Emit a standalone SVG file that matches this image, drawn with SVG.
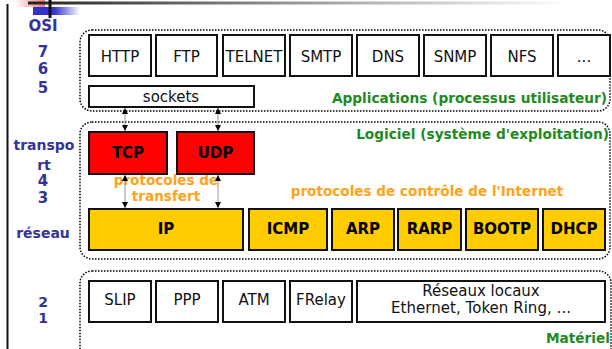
<svg xmlns="http://www.w3.org/2000/svg" width="612" height="349" viewBox="0 0 612 349">
<defs>
<linearGradient id="gTop" x1="0" y1="0" x2="1" y2="0"><stop offset="0" stop-color="#222"/><stop offset="0.5" stop-color="#999"/><stop offset="1" stop-color="#fff"/></linearGradient>
<linearGradient id="gBlue" x1="0" y1="0" x2="1" y2="0"><stop offset="0" stop-color="#3333cc"/><stop offset="0.45" stop-color="#3333cc"/><stop offset="1" stop-color="#fff"/></linearGradient>
<linearGradient id="gPink" x1="0" y1="0" x2="1" y2="0"><stop offset="0" stop-color="#fff"/><stop offset="0.6" stop-color="#f8b0b0"/><stop offset="1" stop-color="#f77"/></linearGradient>
<marker id="ah" viewBox="0 0 6 6" refX="6" refY="3" markerWidth="6" markerHeight="6" markerUnits="userSpaceOnUse" orient="auto-start-reverse"><path d="M0,0 L6,3 L0,6 z" fill="#000"/></marker>
</defs>
<style>
.zone{fill:none;stroke:#000;stroke-width:1.5;stroke-dasharray:1.5 1.5}
.box{fill:#fff;stroke:#111;stroke-width:2}
.red{fill:#ff0000;stroke:#111;stroke-width:2}
.gold{fill:#ffcc00;stroke:#111;stroke-width:2}
.t{font-family:"DejaVu Sans",Verdana,sans-serif;font-size:15px;fill:#111;text-anchor:middle}
.b{font-family:"DejaVu Sans",Verdana,sans-serif;font-size:15px;font-weight:bold;fill:#000;text-anchor:middle}
.osi{font-family:"DejaVu Sans",Verdana,sans-serif;font-size:14px;font-weight:bold;fill:#333399;text-anchor:middle}
.dig{font-size:15px}
.grn{font-family:"DejaVu Sans",Verdana,sans-serif;font-size:13.7px;font-weight:bold;fill:#1f8a1f;text-anchor:end}
.org{font-family:"DejaVu Sans",Verdana,sans-serif;font-size:13.6px;font-weight:bold;fill:#ffa31a;text-anchor:middle}
.con{stroke:#999;stroke-width:1;fill:none;marker-start:url(#ah);marker-end:url(#ah)}
</style>
<g id="decor">
<rect x="15" y="0" width="30" height="7" fill="url(#gPink)"/>
<rect x="33" y="7" width="47" height="8" fill="url(#gBlue)"/>
<rect x="28" y="1.5" width="540" height="3" fill="url(#gTop)"/>
<rect x="48.5" y="0" width="3" height="18" fill="#111"/>
<rect x="6.5" y="4" width="2" height="345" fill="#111"/>
</g>
<g id="osi-labels">
<text class="osi dig" x="43" y="30.5">OSI</text>
<text class="osi dig" x="43" y="57">7</text>
<text class="osi dig" x="43" y="74">6</text>
<text class="osi dig" x="43" y="93">5</text>
<text class="osi" x="44" y="150">transpo</text>
<text class="osi" x="44" y="170">rt</text>
<text class="osi dig" x="43" y="186">4</text>
<text class="osi dig" x="43" y="203">3</text>
<text class="osi" x="43" y="238">réseau</text>
<text class="osi" x="43" y="306.5" font-size="13.5">2</text>
<text class="osi" x="43" y="322.5" font-size="13.5">1</text>
</g>
<g id="zones">
<rect class="zone" x="80" y="30" width="530" height="81" rx="12"/>
<rect class="zone" x="80" y="122" width="530" height="137" rx="12"/>
<rect class="zone" x="80" y="271" width="531" height="95" rx="12"/>
<text class="grn" x="607" y="103">Applications (processus utilisateur)</text>
<text class="grn" x="609" y="139">Logiciel (système d'exploitation)</text>
<text class="grn" x="610" y="343">Matériel</text>
<text class="org" x="427" y="196">protocoles de contrôle de l'Internet</text>
<text class="org" x="166" y="185">protocoles de</text>
<text class="org" x="166" y="201">transfert</text>
</g>
<g id="connectors">
<line class="con" x1="125" y1="108" x2="125" y2="131"/>
<line class="con" x1="218" y1="108" x2="218" y2="131"/>
<line class="con" x1="125" y1="175" x2="125" y2="208"/>
<line class="con" x1="218" y1="175" x2="218" y2="208"/>
</g>
<g id="http"><rect class="box" x="89" y="35" width="62" height="41"/><text class="t" x="120" y="61.5">HTTP</text></g>
<g id="ftp"><rect class="box" x="156" y="35" width="61" height="41"/><text class="t" x="186.5" y="61.5">FTP</text></g>
<g id="telnet"><rect class="box" x="223" y="35" width="62" height="41"/><text class="t" x="254" y="61.5">TELNET</text></g>
<g id="smtp"><rect class="box" x="290" y="35" width="62" height="41"/><text class="t" x="321" y="61.5">SMTP</text></g>
<g id="dns"><rect class="box" x="357" y="35" width="62" height="41"/><text class="t" x="388" y="61.5">DNS</text></g>
<g id="snmp"><rect class="box" x="424" y="35" width="62" height="41"/><text class="t" x="455" y="61.5">SNMP</text></g>
<g id="nfs"><rect class="box" x="491" y="35" width="62" height="41"/><text class="t" x="522" y="61.5">NFS</text></g>
<g id="etc"><rect class="box" x="558" y="35" width="52" height="41"/><text class="t" x="584" y="61.5">...</text></g>
<g id="sockets"><rect class="box" x="89" y="86" width="165" height="21"/><text class="t" x="171" y="102">sockets</text></g>
<g id="tcp"><rect class="red" x="89" y="132" width="78" height="42"/><text class="b" x="128" y="158">TCP</text></g>
<g id="udp"><rect class="red" x="177" y="132" width="77" height="42"/><text class="b" x="215.5" y="158">UDP</text></g>
<g id="ip"><rect class="gold" x="89" y="209" width="154" height="41"/><text class="b" x="166" y="234">IP</text></g>
<g id="icmp"><rect class="gold" x="249" y="209" width="78" height="41"/><text class="b" x="288" y="234">ICMP</text></g>
<g id="arp"><rect class="gold" x="332" y="209" width="62" height="41"/><text class="b" x="363" y="234">ARP</text></g>
<g id="rarp"><rect class="gold" x="398" y="209" width="63" height="41"/><text class="b" x="429.5" y="234">RARP</text></g>
<g id="bootp"><rect class="gold" x="466" y="209" width="72" height="41"/><text class="b" x="502" y="234">BOOTP</text></g>
<g id="dhcp"><rect class="gold" x="543" y="209" width="62" height="41"/><text class="b" x="574" y="234">DHCP</text></g>
<g id="slip"><rect class="box" x="89" y="281" width="62" height="41"/><text class="t" x="120" y="305">SLIP</text></g>
<g id="ppp"><rect class="box" x="156" y="281" width="62" height="41"/><text class="t" x="187" y="305">PPP</text></g>
<g id="atm"><rect class="box" x="223" y="281" width="62" height="41"/><text class="t" x="254" y="305">ATM</text></g>
<g id="frelay"><rect class="box" x="290" y="281" width="62" height="41"/><text class="t" x="321" y="305">FRelay</text></g>
<g id="lan"><rect class="box" x="357" y="281" width="248" height="41"/><text class="t" x="481" y="296" font-size="14">Réseaux locaux</text><text class="t" x="481" y="313" font-size="14" textLength="180" lengthAdjust="spacing">Ethernet, Token Ring, ...</text></g>
</svg>
